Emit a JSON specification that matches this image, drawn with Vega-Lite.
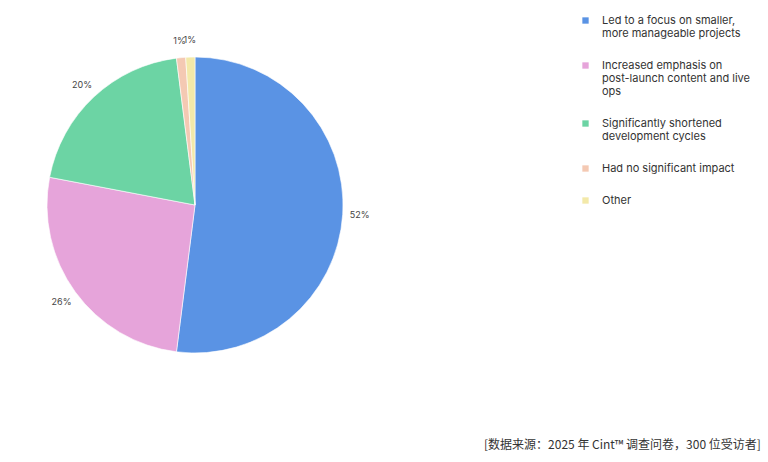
{
  "$schema": "https://vega.github.io/schema/vega-lite/v6.json",
  "width": 390,
  "height": 410,
  "padding": 0,
  "autosize": {"type": "pad"},
  "background": "white",
  "title": {
    "text": "[数据来源：2025 年 Cint™ 调查问卷，300 位受访者]",
    "orient": "bottom",
    "anchor": "start",
    "dx": 484,
    "offset": 30,
    "font": "Noto Sans CJK SC",
    "fontSize": 12,
    "fontWeight": "normal",
    "color": "#333333"
  },
  "data": {
    "values": [
      {"rank": 1, "impact": "Led to a focus on smaller, more manageable projects", "share": 0.52},
      {"rank": 2, "impact": "Increased emphasis on post-launch content and live ops", "share": 0.26},
      {"rank": 3, "impact": "Significantly shortened development cycles", "share": 0.2},
      {"rank": 4, "impact": "Had no significant impact", "share": 0.01},
      {"rank": 5, "impact": "Other", "share": 0.01}
    ]
  },
  "encoding": {
    "theta": {"field": "share", "type": "quantitative", "stack": true},
    "order": {"field": "rank", "type": "quantitative", "sort": "ascending"},
    "color": {
      "field": "impact",
      "type": "nominal",
      "scale": {
        "domain": [
          "Led to a focus on smaller, more manageable projects",
          "Increased emphasis on post-launch content and live ops",
          "Significantly shortened development cycles",
          "Had no significant impact",
          "Other"
        ],
        "range": ["#5a93e4", "#e6a4da", "#6cd4a4", "#f4c9b3", "#f3e9a9"]
      },
      "legend": {
        "title": null,
        "orient": "none",
        "legendX": 580,
        "legendY": 15,
        "symbolType": "square",
        "symbolSize": 40,
        "symbolStrokeWidth": 0,
        "labelFont": "Inter",
        "labelFontSize": 11,
        "labelColor": "#333333",
        "labelOffset": 11,
        "labelLimit": 200,
        "rowPadding": 20,
        "labelExpr": "datum.label == 'Led to a focus on smaller, more manageable projects' ? ['Led to a focus on smaller,', 'more manageable projects'] : datum.label == 'Increased emphasis on post-launch content and live ops' ? ['Increased emphasis on', 'post-launch content and live', 'ops'] : datum.label == 'Significantly shortened development cycles' ? ['Significantly shortened', 'development cycles'] : datum.label"
      }
    }
  },
  "layer": [
    {
      "mark": {"type": "arc", "outerRadius": 148, "stroke": "white", "strokeWidth": 0.6}
    },
    {
      "mark": {"type": "text", "radius": 165, "font": "Inter", "fontSize": 9, "fill": "#444444"},
      "encoding": {
        "text": {"field": "share", "type": "quantitative", "format": ".0%"},
        "color": {"value": "#444444"}
      }
    }
  ],
  "config": {
    "view": {"stroke": null}
  }
}
